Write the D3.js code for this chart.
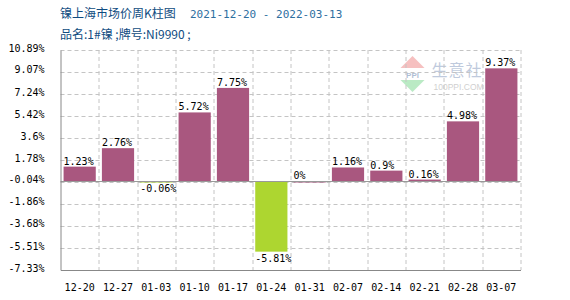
<!DOCTYPE html>
<html lang="zh">
<head>
<meta charset="UTF-8" />
<title>镍上海市场价周K柱图</title>
<script src="https://cdn.jsdelivr.net/npm/d3@7"></script>
<style>
  body { margin: 0; background: #fff; }
  svg { display: block; }
  .mono { font-family: "DejaVu Sans Mono", "Liberation Mono", monospace; font-size: 10px; }
</style>
</head>
<body>
<div id="chart"></div>
<script>
const weeks = ['12-20', '12-27', '01-03', '01-10', '01-17', '01-24', '01-31', '02-07', '02-14', '02-21', '02-28', '03-07']
const changes = [1.23, 2.76, -0.06, 5.72, 7.75, -5.81, 0, 1.16, 0.9, 0.16, 4.98, 9.37]
const yTicks = [10.89, 9.07, 7.24, 5.42, 3.6, 1.78, -0.04, -1.86, -3.68, -5.51, -7.33]

const W = 570, H = 300
const m = { top: 50, right: 49.5, bottom: 30, left: 60.5 }
const w = W - m.left - m.right, h = H - m.top - m.bottom

const svg = d3.select('#chart').append('svg').attr('width', W).attr('height', H)

// titles
svg.append('text').attr('x', 60).attr('y', 18)
  .attr('fill', '#0f4c81').style('font-family', '"Noto Sans CJK SC", sans-serif').style('font-size', '12px')
  .text('镍上海市场价周K柱图')
svg.append('text').attr('x', 190).attr('y', 18)
  .attr('fill', '#2f6f9f').style('font-family', '"DejaVu Sans Mono", monospace').style('font-size', '11px')
  .text('2021-12-20 - 2022-03-13')
svg.append('text').attr('x', 60).attr('y', 39)
  .attr('fill', '#0f4c81').style('font-family', '"Noto Sans CJK SC", sans-serif').style('font-size', '12px')
  .text('品名:1#镍 ;牌号:Ni9990 ;')

const g = svg.append('g').attr('transform', `translate(${m.left},${m.top})`)

const x = d3.scaleBand().domain(weeks).range([0, w]).paddingInner(0.16).paddingOuter(0.08)
const xb = d3.scaleBand().domain(weeks).range([0, w])
const y = d3.scaleLinear().domain([d3.min(yTicks), d3.max(yTicks)]).range([h, 0])

// watermark
const wm = g.append('g').attr('transform', 'translate(340,6)').attr('opacity', 0.35)
wm.append('path').attr('d', 'M12,0 L24,12 L0,12 Z').attr('fill', '#e74c4c')
wm.append('path').attr('d', 'M0,24 L24,24 L12,36 Z').attr('fill', '#3cc45a')
wm.append('text').attr('x', 12).attr('y', 22).attr('text-anchor', 'middle')
  .attr('fill', '#1a4a8a').style('font-size', '8px').style('font-weight', 'bold').style('font-family', 'sans-serif').text('PPI')
wm.append('text').attr('x', 31).attr('y', 20).attr('fill', '#4a6aa0')
  .style('font-family', '"Noto Sans CJK SC", sans-serif').style('font-size', '16px').style('letter-spacing', '1px').text('生意社')
wm.append('text').attr('x', 33).attr('y', 34).attr('fill', '#777')
  .style('font-family', 'sans-serif').style('font-size', '8.5px').text('100PPI.COM')

// grid
g.append('g').selectAll('line').data(yTicks.slice(0, -1)).join('line')
  .attr('x1', 0).attr('x2', w).attr('y1', d => Math.round(y(d)) + 0.5).attr('y2', d => Math.round(y(d)) + 0.5)
  .attr('stroke', '#c4c4c4').attr('stroke-dasharray', '4,3')
g.append('g').selectAll('line').data(weeks).join('line')
  .attr('x1', d => Math.round(xb(d) + xb.bandwidth()) + 0.5).attr('x2', d => Math.round(xb(d) + xb.bandwidth()) + 0.5)
  .attr('y1', 0).attr('y2', h)
  .attr('stroke', '#c4c4c4').attr('stroke-dasharray', '4,3')

// bars
g.append('g').selectAll('rect').data(changes).join('rect')
  .attr('x', (d, i) => x(weeks[i]))
  .attr('width', x.bandwidth())
  .attr('y', d => y(Math.max(0, d)))
  .attr('height', d => Math.max(Math.abs(y(d) - y(0)), 1))
  .attr('fill', d => d < 0 ? '#add630' : '#a9577f')

// zero line
g.append('line').attr('x1', 0).attr('x2', w).attr('y1', Math.round(y(0)) + 0.5).attr('y2', Math.round(y(0)) + 0.5)
  .attr('stroke', '#999')

// value labels
g.append('g').selectAll('text').data(changes).join('text')
  .attr('class', 'mono')
  .attr('x', (d, i) => x(weeks[i]))
  .attr('y', d => d < 0 ? y(d) + 10 : y(d) - 2)
  .attr('fill', '#000')
  .text(d => d + '%')

// axes
const yAxis = g.append('g').call(d3.axisLeft(y).tickValues(yTicks).tickSize(0).tickPadding(16).tickFormat(d => d + '%'))
yAxis.select('.domain').attr('stroke', '#888')
yAxis.selectAll('text').attr('class', 'mono').attr('fill', '#000').attr('dy', '0.1em')

const xAxis = g.append('g').attr('transform', `translate(0,${h})`)
  .call(d3.axisBottom(xb).tickSize(0).tickPadding(14))
xAxis.select('.domain').attr('stroke', '#888')
xAxis.selectAll('text').attr('class', 'mono').attr('fill', '#000')
</script>
</body>
</html>
